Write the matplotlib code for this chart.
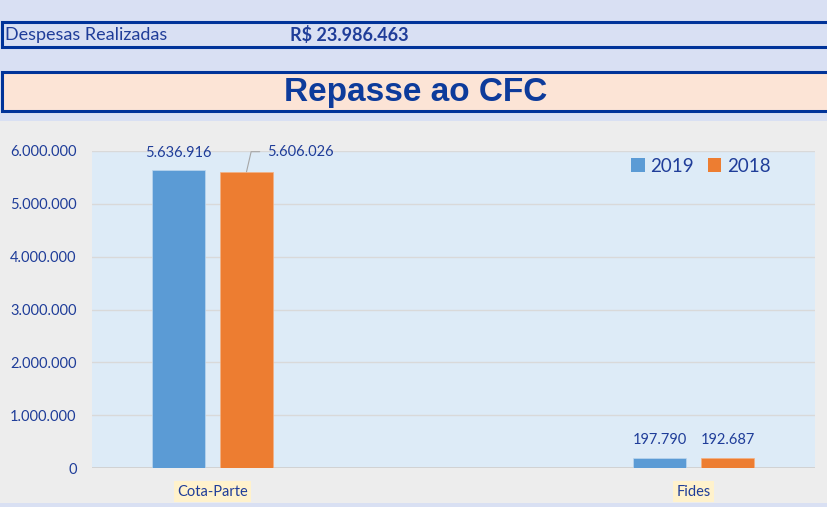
import matplotlib
matplotlib.use('Agg')
import matplotlib.pyplot as plt
from matplotlib.patches import Rectangle, Patch
from matplotlib import font_manager

plt.rcParams['font.family'] = ['Lato', 'DejaVu Sans']

# data
categorias = ['Cota-Parte', 'Fides']
anos = ['2019', '2018']
valores_2019 = [5636916, 197790]
valores_2018 = [5606026, 192687]
y_ticks = [0, 1000000, 2000000, 3000000, 4000000, 5000000, 6000000]
despesas_label = 'Despesas Realizadas'
despesas_valor = 'R$ 23.986.463'
titulo = 'Repasse ao CFC'

cor_2019 = '#5B9BD5'
cor_2018 = '#ED7D31'
azul_txt = '#1F3D99'
azul_borda = '#003399'

W, H = 827, 507


def fmt(v):
    return f'{v:,.0f}'.replace(',', '.')


def fx(px):
    return px / W


def fy(py):
    return 1 - py / H


names = {f.name for f in font_manager.fontManager.ttflist}
title_font = 'Liberation Sans Narrow' if 'Liberation Sans Narrow' in names else 'Liberation Sans'

fig = plt.figure(figsize=(W / 100, H / 100), dpi=100, facecolor='#D9E0F3')

# gray chart area
fig.patches.append(Rectangle((0, fy(503)), 1, (503 - 121) / H, transform=fig.transFigure,
                             facecolor='#EDEDED', edgecolor='none', zorder=0))
# box 1
fig.patches.append(Rectangle((fx(1.5), fy(46.5)), fx(840), (46.5 - 22.5) / H, transform=fig.transFigure,
                             facecolor='#D9E0F3', edgecolor=azul_borda, lw=2.2, zorder=1))
fig.text(fx(5), fy(35), despesas_label, fontsize=13, color=azul_txt, va='center', ha='left')
fig.text(fx(290), fy(35), despesas_valor, fontsize=13, color=azul_txt, va='center', ha='left',
         fontweight='bold')
# box 2
fig.patches.append(Rectangle((fx(1.5), fy(111)), fx(840), (111 - 71.5) / H, transform=fig.transFigure,
                             facecolor='#FCE4D6', edgecolor=azul_borda, lw=2.2, zorder=1))
fig.text(fx(416), fy(92), titulo, fontsize=24, color='#0D3B9B', va='center', ha='center',
         fontweight='bold', family=title_font)

# plot area
ax = fig.add_axes([fx(92), fy(468), (815 - 92) / W, (468 - 151) / H])
ax.set_zorder(5)
ax.set_facecolor('#DDEBF7')
for s in ax.spines.values():
    s.set_visible(False)

x = [0, 1]
w = 0.110
off = 0.0707
b19 = ax.bar([i - off for i in x], valores_2019, w, color=cor_2019, edgecolor='#BDD7EE', lw=0.5,
             zorder=3, label=anos[0])
b18 = ax.bar([i + off for i in x], valores_2018, w, color=cor_2018, edgecolor='#F4B183', lw=0.5,
             zorder=3, label=anos[1])

ax.set_ylim(0, 6000000)
ax.set_xlim(-0.2505, 1.2526)
ax.set_yticks(y_ticks)
ax.set_yticklabels([fmt(v) for v in y_ticks])
ax.grid(axis='y', color='#D9D9D9', lw=1.0, zorder=0)
ax.axhline(0, color='#D0D0D0', lw=2, zorder=2)
ax.tick_params(axis='y', length=0, pad=11, labelsize=10.5, labelcolor=azul_txt)
ax.set_xticks(x)
ax.set_xticklabels(categorias)
ax.tick_params(axis='x', length=0, pad=12, labelsize=10.5, labelcolor=azul_txt)
for lbl in ax.get_xticklabels():
    lbl.set_bbox(dict(facecolor='#FFF2CC', edgecolor='none', pad=2.5))

# data labels
for i in x:
    ax.annotate(fmt(valores_2019[i]), (i - off, valores_2019[i]), xytext=(0, 7.5),
                textcoords='offset points', ha='center', va='bottom', fontsize=10.5, color=azul_txt)
ax.annotate(fmt(valores_2018[1]), (1 + off, valores_2018[1]), xytext=(0, 7.5),
            textcoords='offset points', ha='center', va='bottom', fontsize=10.5, color=azul_txt)
ax.annotate(fmt(valores_2018[0]), (0 + off, valores_2018[0]), xytext=(14.5, 14.5),
            textcoords='offset points', ha='left', va='center', fontsize=10.5, color=azul_txt,
            arrowprops=dict(arrowstyle='-', color='#A6A6A6', lw=0.8, shrinkA=3, shrinkB=0,
                            connectionstyle='angle,angleA=0,angleB=77,rad=0'))

handles = [Patch(facecolor=cor_2019), Patch(facecolor=cor_2018)]
leg = fig.legend(handles, anos, loc='center left', bbox_to_anchor=(fx(631), fy(166)), ncol=2,
                 frameon=False, fontsize=13.5, handlelength=0.72, handleheight=0.72,
                 handletextpad=0.3, columnspacing=0.75, borderpad=0, borderaxespad=0,
                 labelcolor=azul_txt)
leg.set_zorder(6)

fig.savefig('out.png', dpi=100, facecolor=fig.get_facecolor())
